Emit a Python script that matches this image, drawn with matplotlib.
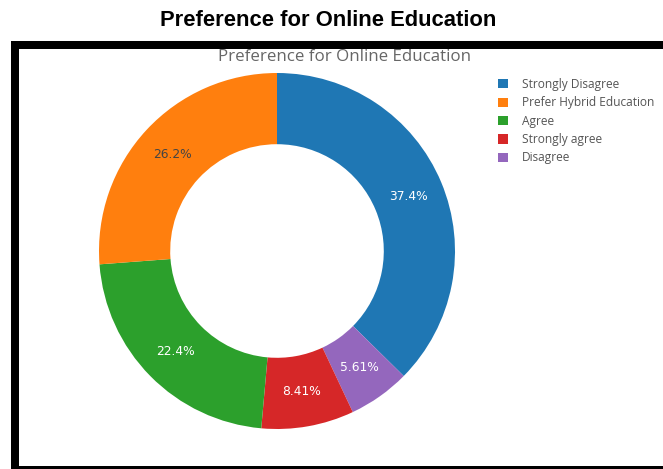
import matplotlib
matplotlib.use("Agg")
import matplotlib.pyplot as plt
from matplotlib.patches import Rectangle

# responses, in the order the slices run clockwise from 12 o'clock
labels = ["Strongly Disagree", "Disagree", "Strongly agree", "Agree", "Prefer Hybrid Education"]
shares = [37.4, 5.61, 8.41, 22.4, 26.2]
colors = ["#1f77b4", "#9467bd", "#d62728", "#2ca02c", "#ff7f0e"]
text_colors = ["white", "white", "white", "white", "#444444"]
legend_order = ["Strongly Disagree", "Prefer Hybrid Education", "Agree", "Strongly agree", "Disagree"]

W, H = 663, 469
fig = plt.figure(figsize=(W / 100, H / 100), dpi=100)
fig.patch.set_facecolor("white")


def fy(y):
    # pixel row from the top -> figure fraction
    return 1 - y / H


fig.text(0.495, fy(21), "Preference for Online Education", ha="center", va="center",
         fontsize=15.8, fontweight="bold", family="Liberation Sans")

# black frame around the inner chart
fig.add_artist(Rectangle((11 / W, 0), 8 / W, fy(41), color="black", lw=0))
fig.add_artist(Rectangle((11 / W, fy(49)), 1, 8 / H, color="black", lw=0))
fig.add_artist(Rectangle((11 / W, 0), 1, 2.6 / H, color="black", lw=0))

fig.text(344 / W, fy(57), "Preference for Online Education", ha="center", va="center",
         fontsize=12.2, color="#666666", family="Open Sans")

cx, cy, r = 277, 251, 178
ax = fig.add_axes([(cx - r) / W, (H - cy - r) / H, 2 * r / W, 2 * r / H])
wedges, texts, autotexts = ax.pie(
    shares, colors=colors, startangle=90, counterclock=False,
    autopct=lambda p: "", pctdistance=0.8,
    wedgeprops=dict(width=0.4, linewidth=0),
)
for t, v, c in zip(autotexts, shares, text_colors):
    t.set_text(f"{v:.3g}%")
    t.set_color(c)
    t.set_fontsize(8.8)
    t.set_family("DejaVu Sans")
ax.set_xlim(-1, 1)
ax.set_ylim(-1, 1)
ax.axis("off")

handles = [wedges[labels.index(l)] for l in legend_order]
leg = fig.legend(handles, legend_order, loc="upper left",
                 bbox_to_anchor=(498 / W, fy(78)), frameon=False,
                 prop=dict(family="Open Sans", size=8.6),
                 handlelength=0.8, handleheight=0.8, handletextpad=1.2,
                 labelspacing=0.45, borderaxespad=0, borderpad=0)
for t in leg.get_texts():
    t.set_color("#555555")

fig.savefig("out.png", dpi=100)
